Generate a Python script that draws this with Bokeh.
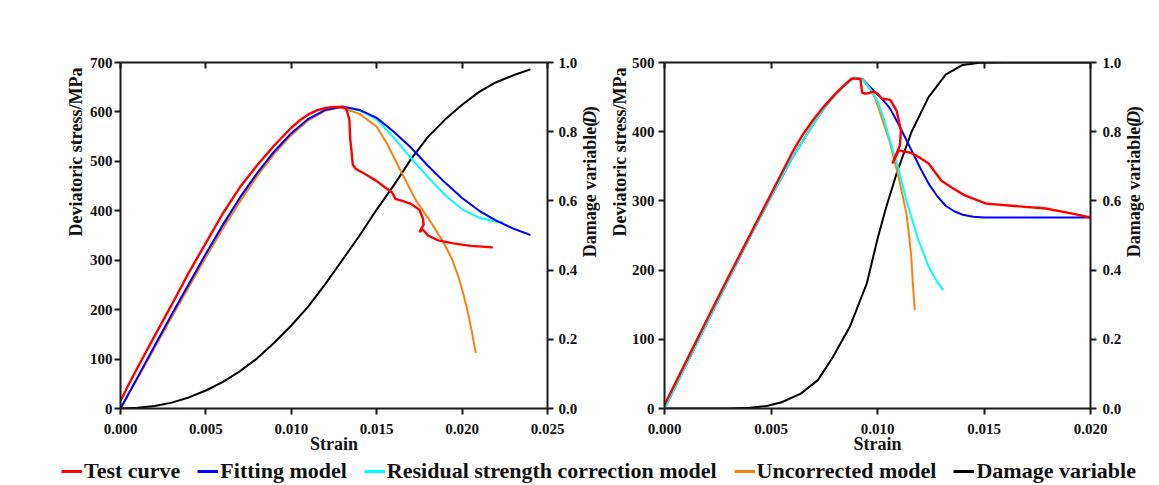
import math
from bokeh.plotting import figure
from bokeh.models import (Range1d, LinearAxis, FixedTicker, NumeralTickFormatter,
                          Legend, LegendItem, CustomJSTickFormatter, Label, Title)
from bokeh.layouts import column, row
from bokeh.embed import file_html
from bokeh.resources import INLINE

FONT = "Liberation Serif"
AX = "#1a1a1a"
TXT = "#111111"
RED, BLUE, CYAN, ORANGE, BLACK = "#ff0000", "#0000ff", "#00ffff", "#ff7f0e", "#000000"

# ---------------- left chart data ----------------
l_test_eps = [0, 0.0005, 0.001, 0.002, 0.003, 0.004, 0.005, 0.006, 0.007, 0.008, 0.009, 0.010,
              0.0105, 0.011, 0.0115, 0.012, 0.0125, 0.0129, 0.0132, 0.0134, 0.01345, 0.01355,
              0.0136, 0.0138, 0.0143, 0.0150, 0.0155, 0.0159, 0.0161, 0.0165, 0.0170, 0.0175,
              0.0177, 0.01775, 0.0175, 0.0177, 0.0180, 0.0186, 0.0195, 0.0205, 0.0218]
l_test_s = [15, 50, 83, 147, 210, 275, 335, 395, 448, 492, 532, 568,
            583, 595, 603, 608, 610, 610, 608, 585, 545, 512,
            493, 484, 475, 460, 447, 437, 424, 420, 414, 402,
            385, 372, 357, 362, 350, 340, 334, 329, 326]

l_fit_eps = [0, 0.001, 0.002, 0.003, 0.004, 0.005, 0.006, 0.007, 0.008, 0.009, 0.010, 0.011,
             0.012, 0.013, 0.014, 0.015, 0.016, 0.017, 0.018, 0.019, 0.020, 0.021, 0.022,
             0.023, 0.024]
l_fit_s = [0, 63, 127, 190, 252, 313, 372, 427, 476, 520, 557, 586,
           604, 611, 604, 588, 560, 528, 491, 457, 426, 400, 380,
           364, 351]

l_res_eps = [0, 0.001, 0.002, 0.003, 0.004, 0.005, 0.006, 0.007, 0.008, 0.009, 0.010, 0.011,
             0.012, 0.013, 0.014, 0.015, 0.016, 0.017, 0.018, 0.019, 0.020, 0.021, 0.022, 0.0224]
l_res_s = [0, 62, 126, 189, 251, 312, 371, 426, 475, 519, 556, 585,
           603, 610, 603, 585, 548, 507, 468, 432, 403, 386, 378, 377]

l_unc_eps = [0, 0.001, 0.002, 0.003, 0.004, 0.005, 0.006, 0.007, 0.008, 0.009, 0.010, 0.011,
             0.012, 0.0127, 0.013, 0.014, 0.015, 0.0156, 0.0164, 0.0173, 0.0183, 0.0189,
             0.0194, 0.0198, 0.0201, 0.0204, 0.0206, 0.0208]
l_unc_s = [0, 61, 123, 185, 246, 306, 364, 419, 470, 515, 553, 583,
           603, 609, 608, 596, 570, 536, 481, 421, 370, 337,
           303, 265, 228, 185, 150, 112]

l_dmg_eps = [0, 0.001, 0.002, 0.003, 0.004, 0.005, 0.006, 0.007, 0.008, 0.009, 0.010, 0.011,
             0.012, 0.013, 0.014, 0.015, 0.016, 0.017, 0.018, 0.019, 0.020, 0.021, 0.022,
             0.023, 0.024]
l_dmg_D = [0, 0.002, 0.007, 0.017, 0.032, 0.052, 0.077, 0.108, 0.145, 0.19, 0.24, 0.295,
           0.36, 0.43, 0.50, 0.575, 0.645, 0.72, 0.785, 0.835, 0.878, 0.915, 0.943,
           0.963, 0.98]

# ---------------- right chart data ----------------
r_test_eps = [0, 0.001, 0.002, 0.003, 0.004, 0.005, 0.006, 0.0065, 0.007, 0.0075, 0.008, 0.0085,
              0.0088, 0.0092, 0.00928, 0.0095, 0.0098, 0.0100, 0.0102, 0.0106, 0.0109, 0.0111,
              0.01105, 0.0107, 0.0110, 0.0115, 0.0118, 0.0124, 0.0130, 0.0135, 0.0141, 0.0151,
              0.0163, 0.0179, 0.0191, 0.0200]
r_test_s = [5, 67, 129, 190, 250, 310, 370, 396, 418, 437, 454, 469,
            477, 476, 456, 455, 458, 455, 448, 446, 430, 402,
            380, 354, 373, 370, 366, 354, 329, 319, 308, 296,
            293, 289, 282, 276]

r_fit_eps = [0, 0.001, 0.002, 0.003, 0.004, 0.005, 0.006, 0.007, 0.0075, 0.008, 0.0085, 0.0089,
             0.0093, 0.0098, 0.0102, 0.0106, 0.0110, 0.0116, 0.0120, 0.0124, 0.0128, 0.0132,
             0.0136, 0.0140, 0.0145, 0.0150, 0.0200]
r_fit_s = [0, 62, 124, 186, 247, 306, 362, 412, 434, 453, 468, 478,
           476, 460, 448, 433, 410, 373, 348, 325, 307, 293,
           285, 280, 277, 276, 276]

r_res_eps = [0, 0.001, 0.002, 0.003, 0.004, 0.005, 0.006, 0.007, 0.0075, 0.008, 0.0085, 0.0089,
             0.0093, 0.0097, 0.0100, 0.0103, 0.0107, 0.0110, 0.01136, 0.0119, 0.0124, 0.0128,
             0.0131]
r_res_s = [0, 62, 124, 186, 247, 306, 362, 412, 434, 453, 468, 478,
           475, 460, 445, 418, 375, 345, 300, 245, 205, 183,
           171]

r_unc_eps = [0, 0.001, 0.002, 0.003, 0.004, 0.005, 0.006, 0.007, 0.0075, 0.008, 0.0085, 0.0089,
             0.0093, 0.0096, 0.0099, 0.0102, 0.01056, 0.0110, 0.01136, 0.0115, 0.01159, 0.01166,
             0.01175]
r_unc_s = [0, 62, 124, 186, 247, 306, 362, 412, 434, 453, 468, 478,
           475, 465, 448, 420, 387, 333, 282, 245, 218, 180,
           142]

r_dmg_eps = [0, 0.001, 0.002, 0.003, 0.004, 0.0048, 0.0055, 0.0064, 0.0072, 0.0079, 0.0087,
             0.0095, 0.0100, 0.0104, 0.0109, 0.0116, 0.0124, 0.0132, 0.0140, 0.0148, 0.0160, 0.0200]
r_dmg_D = [0, 0, 0, 0.0003, 0.002, 0.007, 0.018, 0.043, 0.082, 0.148, 0.236,
           0.362, 0.49, 0.58, 0.68, 0.80, 0.90, 0.965, 0.993, 0.999, 1.0, 1.0]

x_ticks_left = [0, 0.005, 0.010, 0.015, 0.020, 0.025]
x_ticks_right = [0, 0.005, 0.010, 0.015, 0.020]
y_ticks_left = [0, 100, 200, 300, 400, 500, 600, 700]
y_ticks_right = [0, 100, 200, 300, 400, 500]
d_ticks = [0, 0.2, 0.4, 0.6, 0.8, 1.0]

legend_labels = ["Test curve", "Fitting model", "Residual strength correction model",
                 "Uncorrected model", "Damage variable"]

H = 458


def style(ax, ticks, fmt, tick_in=0, tick_out=6, lab_standoff=3, ax_standoff=2):
    ax.ticker = FixedTicker(ticks=ticks)
    ax.formatter = NumeralTickFormatter(format=fmt)
    ax.axis_line_width = 2
    ax.axis_line_color = AX
    ax.major_tick_line_width = 2
    ax.major_tick_line_color = AX
    ax.major_tick_in = tick_in
    ax.major_tick_out = tick_out
    ax.minor_tick_in = 0
    ax.minor_tick_out = 0
    ax.major_label_text_font = FONT
    ax.major_label_text_font_size = "15px"
    ax.major_label_text_font_style = "bold"
    ax.major_label_text_color = TXT
    ax.major_label_standoff = lab_standoff
    ax.axis_label_text_font = FONT
    ax.axis_label_text_font_size = "18px"
    ax.axis_label_text_font_style = "bold"
    ax.axis_label_text_color = TXT
    ax.axis_label_standoff = ax_standoff


def make_fig(width, border_left, border_right, xmax, ymax, xt, yt, ls_left, ls_right,
             title_standoff):
    p = figure(width=width, height=H, x_range=Range1d(0, xmax), y_range=Range1d(0, ymax),
               toolbar_location=None, output_backend="svg",
               min_border_left=border_left, min_border_right=border_right,
               min_border_top=62, min_border_bottom=50, outline_line_color=None)
    p.grid.visible = False
    p.extra_y_ranges = {"D": Range1d(0, 1)}
    style(p.xaxis[0], xt, "0.000", lab_standoff=9, ax_standoff=-3)
    p.xaxis[0].axis_label = "Strain"
    style(p.yaxis[0], yt, "0", lab_standoff=ls_left)
    ra = LinearAxis(y_range_name="D")
    style(ra, d_ticks, "0.0", lab_standoff=ls_right)
    p.add_layout(ra, "right")
    ta = LinearAxis()
    style(ta, xt, "0.000", tick_in=6, tick_out=0)
    ta.formatter = CustomJSTickFormatter(code="return ''")
    p.add_layout(ta, "above")
    # left vertical title, aligned with the top of the frame
    p.add_layout(Title(text="Deviatoric stress/MPa", align="right", offset=5,
                       text_font=FONT, text_font_size="18px", text_font_style="bold",
                       text_color=TXT, standoff=title_standoff), "left")
    return p


def title_strip():
    """Narrow strip holding the rotated 'Damage variable(D)' title (reads bottom-to-top)."""
    s = figure(width=20, height=H, x_range=Range1d(0, 20), y_range=Range1d(0, H),
               toolbar_location=None, output_backend="svg", min_border=0,
               outline_line_color=None, x_axis_location=None, y_axis_location=None)
    s.grid.visible = False
    top = H - 58
    for txt, off, fs in [(")", 0, "bold"), ("D", 6, "bold italic"), ("Damage variable(", 19, "bold")]:
        s.add_layout(Label(x=9, y=top - off, text=txt, angle=math.pi / 2, text_align="right",
                           text_baseline="middle", text_font=FONT, text_font_size="18px",
                           text_font_style=fs, text_color=TXT))
    return s


p1 = make_fig(580, 120, 32, 0.025, 700, x_ticks_left, y_ticks_left, 2, 5, 2)
p2 = make_fig(524, 64, 32, 0.020, 500, x_ticks_right, y_ticks_right, 4, 6, -2)
s1 = title_strip()
s2 = title_strip()

W = 2
p1.line(l_dmg_eps, l_dmg_D, color=BLACK, line_width=W, y_range_name="D")
p1.line(l_res_eps, l_res_s, color=CYAN, line_width=W)
p1.line(l_unc_eps, l_unc_s, color=ORANGE, line_width=W)
p1.line(l_fit_eps, l_fit_s, color=BLUE, line_width=W)
p1.line(l_test_eps, l_test_s, color=RED, line_width=2.4)

p2.line(r_dmg_eps, r_dmg_D, color=BLACK, line_width=W, y_range_name="D")
p2.line(r_fit_eps, r_fit_s, color=BLUE, line_width=W)
p2.line(r_unc_eps, r_unc_s, color=ORANGE, line_width=W)
p2.line(r_res_eps, r_res_s, color=CYAN, line_width=W)
p2.line(r_test_eps, r_test_s, color=RED, line_width=2.4)

# legend strip (dummy renderers lie outside the visible range)
lf = figure(width=1151, height=27, x_range=Range1d(0, 1), y_range=Range1d(0, 1),
            toolbar_location=None, output_backend="svg", min_border=0,
            outline_line_color=None, x_axis_location=None, y_axis_location=None)
lf.grid.visible = False
items = []
for lab, col in zip(legend_labels, [RED, BLUE, CYAN, ORANGE, BLACK]):
    r = lf.line([5, 6], [5, 6], color=col, line_width=3)
    items.append(LegendItem(label=lab, renderers=[r]))
leg = Legend(items=items, orientation="horizontal", location=(61, 1),
             border_line_color=None, background_fill_alpha=0, padding=0, margin=0,
             spacing=17, glyph_width=21, glyph_height=22, label_standoff=2,
             label_height=22, label_text_font=FONT, label_text_font_size="22px",
             label_text_font_style="bold", label_text_color=TXT)
lf.add_layout(leg, "center")

layout = column(row(p1, s1, p2, s2), lf)
open("out.html", "w").write(file_html(layout, INLINE))
